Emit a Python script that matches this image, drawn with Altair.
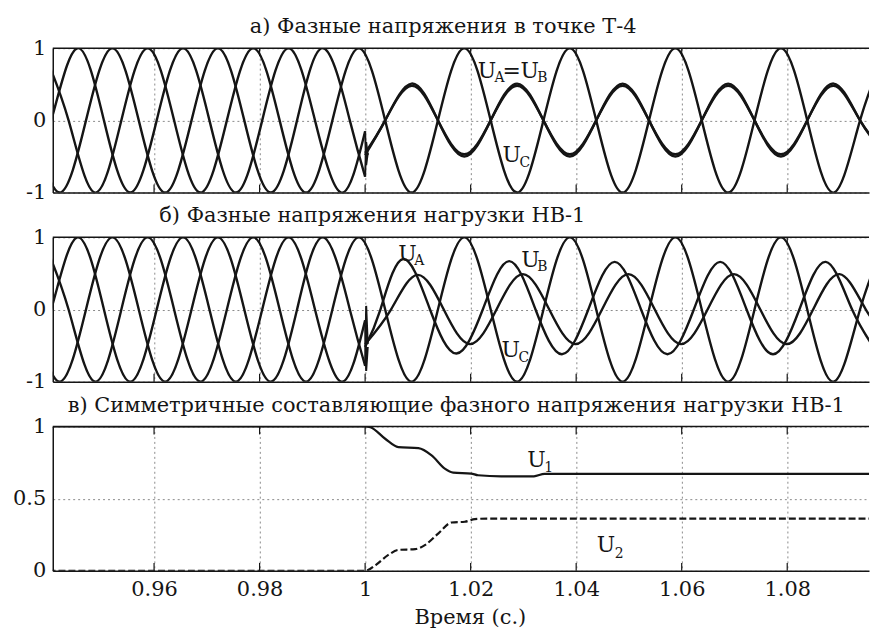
import altair as alt
import pandas as pd

FONT = "DejaVu Serif"
INK = "#151515"
GRID = "#8a8a8a"

# ---- time axis -------------------------------------------------------------
x_domain = [0.9408, 1.0955]
x_ticks = [0.96, 0.98, 1.0, 1.02, 1.04, 1.06, 1.08]
wave_ticks = [-1, 0, 1]
seq_ticks = [0, 0.5, 1]

# ---- phase voltages, p.u. (knots at peaks, zero crossings and troughs) -----
# phase C keeps its amplitude through the fault, same in both panels
c_t = [0.9388, 0.9438, 0.9488, 0.9538, 0.9588, 0.9638, 0.9688, 0.9738, 0.9788,
       0.9838, 0.9888, 0.9938, 0.9988, 1.0038, 1.0088, 1.0138, 1.0188, 1.0238,
       1.0288, 1.0338, 1.0388, 1.0438, 1.0488, 1.0538, 1.0588, 1.0638, 1.0688,
       1.0738, 1.0788, 1.0838, 1.0888, 1.0938, 1.0988]
c_v = [1, 0, -1, 0, 1, 0, -1, 0, 1, 0, -1, 0, 1, 0, -1, 0, 1, 0, -1, 0, 1, 0,
       -1, 0, 1, 0, -1, 0, 1, 0, -1, 0, 1]

# phases A and B before the fault (t < 1 s)
pre_a_t = [0.9355, 0.9405, 0.9455, 0.9505, 0.9555, 0.9605, 0.9655, 0.9705,
           0.9755, 0.9805, 0.9855, 0.9905, 0.9955, 1.0]
pre_a_v = [-1, 0, 1, 0, -1, 0, 1, 0, -1, 0, 1, 0, -1, -0.15]
pre_b_t = [0.9371, 0.9421, 0.9471, 0.9521, 0.9571, 0.9621, 0.9671, 0.9721,
           0.9771, 0.9821, 0.9871, 0.9921, 0.9971, 1.0]
pre_b_v = [0, -1, 0, 1, 0, -1, 0, 1, 0, -1, 0, 1, 0, -0.78]

# point T-4 after the fault: U_A = U_B
t4_ab_t = [1.0, 1.0038, 1.0088, 1.0138, 1.0188, 1.0238, 1.0288, 1.0338, 1.0388,
           1.0438, 1.0488, 1.0538, 1.0588, 1.0638, 1.0688, 1.0738, 1.0788,
           1.0838, 1.0888, 1.0938, 1.0988]
t4_a_v = [-0.45, 0, 0.51, 0, -0.50, 0, 0.51, 0, -0.50, 0, 0.51, 0, -0.50, 0,
          0.51, 0, -0.50, 0, 0.51, 0, -0.50]
t4_b_v = [-0.48, 0, 0.48, 0, -0.47, 0, 0.48, 0, -0.47, 0, 0.48, 0, -0.47, 0,
          0.48, 0, -0.47, 0, 0.48, 0, -0.47]

# load HB-1 after the fault
hb_a_t = [1.0, 1.0029, 1.0072, 1.0123, 1.0173, 1.0223, 1.0273, 1.0323, 1.0373,
          1.0423, 1.0473, 1.0523, 1.0573, 1.0623, 1.0673, 1.0723, 1.0773,
          1.0823, 1.0873, 1.0923, 1.0973]
hb_a_v = [-0.52, 0, 0.70, 0, -0.61, 0, 0.67, 0, -0.62, 0, 0.66, 0, -0.62, 0,
          0.66, 0, -0.62, 0, 0.66, 0, -0.62]
hb_b_t = [1.0, 1.0049, 1.0099, 1.0149, 1.0199, 1.0249, 1.0299, 1.0349, 1.0399,
          1.0449, 1.0499, 1.0549, 1.0599, 1.0649, 1.0699, 1.0749, 1.0799,
          1.0849, 1.0899, 1.0949, 1.0999]
hb_b_v = [-0.48, 0, 0.48, 0, -0.48, 0, 0.49, 0, -0.48, 0, 0.49, 0, -0.48, 0,
          0.49, 0, -0.48, 0, 0.49, 0, -0.48]

# switching transient at t = 1 s
t4_jump_a_t = [1.0, 1.0002, 1.0005]
t4_jump_a_v = [-0.15, -0.62, -0.45]
t4_jump_b_t = [1.0, 1.0002, 1.0005]
t4_jump_b_v = [-0.78, -0.30, -0.48]
hb_jump_a_t = [1.0, 1.0002, 1.0005]
hb_jump_a_v = [-0.15, -0.85, -0.52]
hb_jump_b_t = [1.0, 1.0002, 1.0005]
hb_jump_b_v = [-0.78, 0.05, -0.48]

# positive / negative sequence of the load voltage
u1_t = [0.94, 1.0, 1.001, 1.0038, 1.0063, 1.0101, 1.0126, 1.0151, 1.0167,
        1.0201, 1.0214, 1.0258, 1.032, 1.034, 1.096]
u1_v = [1, 1, 0.995, 0.915, 0.857, 0.85, 0.80, 0.708, 0.68, 0.674, 0.662,
        0.655, 0.655, 0.672, 0.672]
u2_t = [0.94, 1.0, 1.002, 1.0044, 1.0063, 1.0095, 1.0114, 1.0139, 1.0164,
        1.0189, 1.0208, 1.0232, 1.096]
u2_v = [0, 0, 0.04, 0.11, 0.145, 0.15, 0.18, 0.26, 0.335, 0.34, 0.358, 0.362,
        0.362]

# curve labels: (t, v, text) for the letter U and its subscript
lab_a_main = [(1.02134, 0.586, "U"), (1.02604, 0.586, "="), (1.02943, 0.586, "U"),
              (1.02604, -0.572, "U")]
lab_a_sub = [(1.02452, 0.531, "A"), (1.03262, 0.531, "B"), (1.02924, -0.641, "C")]
lab_b_main = [(1.00628, 0.669, "U"), (1.02961, 0.586, "U"), (1.02585, -0.655, "U")]
lab_b_sub = [(1.00929, 0.614, "A"), (1.03262, 0.531, "B"), (1.02905, -0.724, "C")]
lab_c_main = [(1.03074, 0.717, "U"), (1.04391, 0.131, "U")]
lab_c_sub = [(1.03394, 0.683, "1"), (1.0473, 0.09, "2")]

W, H = 820, 145


def frame(ts, vs, name):
    return pd.DataFrame({"t": ts, "v": vs, "s": name})


def build_panel(title, title_dx, y_dom, y_ticks, smooth, jumps, main_lab, sub_lab,
                tick_len, bottom_labels, seq=None):
    xscale = alt.Scale(domain=x_domain, nice=False, zero=False)
    yscale = alt.Scale(domain=y_dom, nice=False, zero=False)
    if bottom_labels:
        xaxis = alt.Axis(values=x_ticks, format="~g", grid=True, ticks=False,
                         labelPadding=8, title="Время (с.)",
                         titleX=419, titleY=53, titleBaseline="alphabetic")
    else:
        xaxis = alt.Axis(values=x_ticks, labels=False, grid=True, ticks=False,
                         title=None)
    yaxis = alt.Axis(values=y_ticks, format="~g", grid=True, ticks=False,
                     labelPadding=7, title=None,
                     labelExpr="replace(datum.label, '\u2212', '-')")
    X = alt.X("t:Q", scale=xscale, axis=xaxis)
    Y = alt.Y("v:Q", scale=yscale, axis=yaxis)

    layers = []
    if smooth is not None:
        layers.append(alt.Chart(smooth).mark_line(
            interpolate="natural", clip=True, color=INK, strokeWidth=2.4
        ).encode(x=X, y=Y, detail="s:N"))
    if jumps is not None:
        layers.append(alt.Chart(jumps).mark_line(
            clip=True, color=INK, strokeWidth=2.0
        ).encode(x=X, y=Y, detail="s:N"))
    if seq is not None:
        u1, u2 = seq
        layers.append(alt.Chart(u1).mark_line(
            interpolate="monotone", clip=True, color=INK, strokeWidth=2.2
        ).encode(x=X, y=Y))
        layers.append(alt.Chart(u2).mark_line(
            interpolate="monotone", clip=True, color=INK, strokeWidth=2.2,
            strokeDash=[7, 3]
        ).encode(x=X, y=Y))

    # inner tick marks on the bottom and top edges of the frame
    lo, hi = y_dom
    tk = pd.DataFrame({
        "t": x_ticks * 2,
        "v": [lo] * len(x_ticks) + [hi - tick_len] * len(x_ticks),
        "v2": [lo + tick_len] * len(x_ticks) + [hi] * len(x_ticks),
    })
    layers.append(alt.Chart(tk).mark_rule(color=INK, strokeWidth=1.2).encode(
        x=X, y=Y, y2="v2:Q"))

    # top edge of the frame
    layers.append(alt.Chart(pd.DataFrame({"v": [hi]})).mark_rule(
        color=INK, strokeWidth=1.5).encode(y=Y))

    main_df = pd.DataFrame(main_lab, columns=["t", "v", "txt"])
    sub_df = pd.DataFrame(sub_lab, columns=["t", "v", "txt"])
    layers.append(alt.Chart(main_df).mark_text(
        font=FONT, fontSize=22, align="left", baseline="alphabetic", color=INK
    ).encode(x=X, y=Y, text="txt:N"))
    layers.append(alt.Chart(sub_df).mark_text(
        font=FONT, fontSize=14, align="left", baseline="alphabetic", color=INK
    ).encode(x=X, y=Y, text="txt:N"))

    return alt.layer(*layers).properties(
        width=W, height=H,
        title=alt.TitleParams(title, anchor="start", frame="group", dx=title_dx,
                              offset=0),
    )


smooth_src = pd.concat([
    frame(pre_a_t, pre_a_v, "a0"), frame(pre_b_t, pre_b_v, "b0"),
    frame(c_t, c_v, "c"),
    frame(t4_ab_t, t4_a_v, "a1"), frame(t4_ab_t, t4_b_v, "b1"),
])
jump_src = pd.concat([
    frame(t4_jump_a_t, t4_jump_a_v, "ja"), frame(t4_jump_b_t, t4_jump_b_v, "jb"),
])
smooth_load = pd.concat([
    frame(pre_a_t, pre_a_v, "a0"), frame(pre_b_t, pre_b_v, "b0"),
    frame(c_t, c_v, "c"),
    frame(hb_a_t, hb_a_v, "a1"), frame(hb_b_t, hb_b_v, "b1"),
])
jump_load = pd.concat([
    frame(hb_jump_a_t, hb_jump_a_v, "ja"), frame(hb_jump_b_t, hb_jump_b_v, "jb"),
])

panel_a = build_panel("а) Фазные напряжения в точке Т-4", 198, [-1, 1], wave_ticks,
                      smooth_src, jump_src, lab_a_main, lab_a_sub, 0.11, False)
panel_b = build_panel("б) Фазные напряжения  нагрузки НВ-1", 107, [-1, 1], wave_ticks,
                      smooth_load, jump_load, lab_b_main, lab_b_sub, 0.11, False)
panel_c = build_panel("в) Симметричные составляющие фазного напряжения нагрузки НВ-1",
                      15, [0, 1], seq_ticks, None, None, lab_c_main, lab_c_sub,
                      0.055, True,
                      seq=(pd.DataFrame({"t": u1_t, "v": u1_v}),
                           pd.DataFrame({"t": u2_t, "v": u2_v})))

chart = alt.vconcat(panel_a, panel_b, panel_c, spacing=3).properties(
    padding={"left": 12, "top": 15, "right": 0, "bottom": 0},
    background="white",
).configure_axis(
    labelFont=FONT, labelFontSize=21, labelColor=INK,
    titleFont=FONT, titleFontSize=21, titleColor=INK, titleFontWeight="normal",
    domainColor=INK, domainWidth=1.5,
    gridColor=GRID, gridDash=[2, 3], gridWidth=1, gridOpacity=1,
).configure_title(
    font=FONT, fontSize=21, fontWeight="normal", color=INK,
).configure_view(stroke=None)

chart.save("out.html", embed_options={"renderer": "svg", "actions": False})
